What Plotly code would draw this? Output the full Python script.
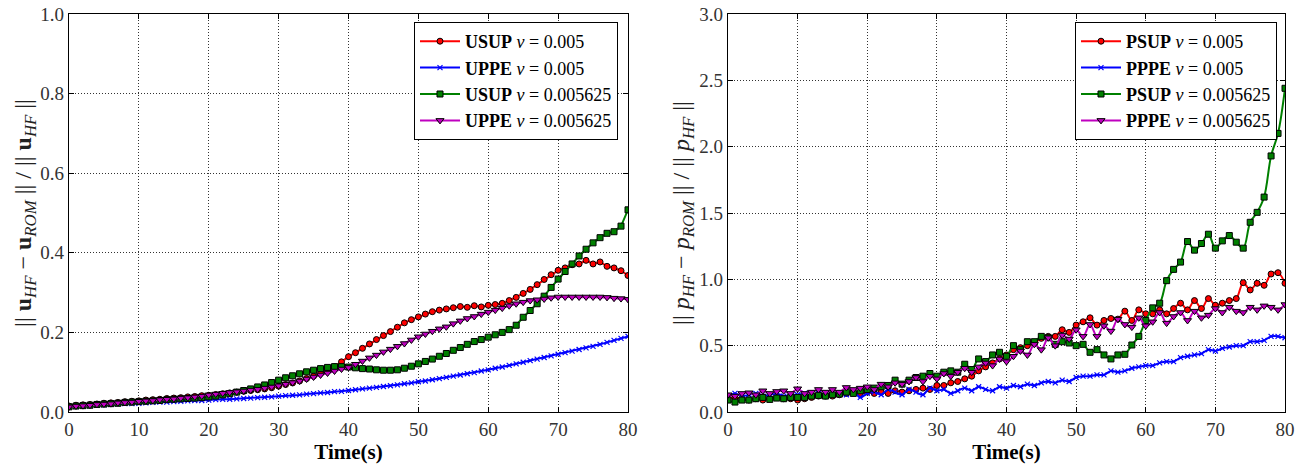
import plotly.graph_objects as go

t = list(range(0, 81))

# Left panel: velocity relative errors
u_usup_005 = [0.015,0.017,0.018,0.019,0.020,0.022,0.023,0.024,0.026,0.027,
              0.028,0.030,0.031,0.032,0.034,0.035,0.036,0.038,0.039,0.041,
              0.042,0.044,0.046,0.048,0.050,0.052,0.054,0.056,0.058,0.061,
              0.065,0.069,0.073,0.078,0.084,0.090,0.097,0.105,0.114,0.126,
              0.139,0.149,0.160,0.171,0.182,0.192,0.202,0.213,0.224,0.232,
              0.239,0.246,0.252,0.256,0.259,0.262,0.265,0.263,0.267,0.264,
              0.268,0.270,0.273,0.280,0.288,0.298,0.308,0.320,0.333,0.345,
              0.356,0.362,0.370,0.372,0.381,0.372,0.377,0.366,0.362,0.355,
              0.343]
u_uppe_005 = [0.013,0.014,0.015,0.016,0.017,0.018,0.019,0.020,0.021,0.021,
              0.022,0.023,0.024,0.025,0.025,0.026,0.027,0.028,0.029,0.029,
              0.030,0.031,0.032,0.032,0.033,0.034,0.035,0.036,0.037,0.038,
              0.040,0.041,0.042,0.043,0.045,0.046,0.048,0.049,0.051,0.052,
              0.054,0.056,0.058,0.060,0.062,0.064,0.066,0.068,0.071,0.073,
              0.076,0.078,0.081,0.084,0.087,0.090,0.093,0.096,0.099,0.103,
              0.106,0.110,0.113,0.117,0.121,0.125,0.129,0.133,0.137,0.141,
              0.145,0.149,0.153,0.157,0.161,0.165,0.170,0.175,0.180,0.185,
              0.190]
u_usup_0056 = [0.013,0.015,0.016,0.017,0.019,0.020,0.021,0.022,0.024,0.025,
               0.026,0.027,0.028,0.029,0.031,0.032,0.033,0.034,0.035,0.036,
               0.038,0.040,0.043,0.046,0.050,0.054,0.058,0.063,0.068,0.074,
               0.080,0.086,0.091,0.096,0.101,0.105,0.109,0.112,0.114,0.114,
               0.113,0.111,0.109,0.108,0.106,0.105,0.105,0.106,0.110,0.115,
               0.121,0.127,0.133,0.140,0.147,0.155,0.162,0.170,0.177,0.182,
               0.188,0.194,0.200,0.207,0.218,0.238,0.255,0.272,0.291,0.313,
               0.334,0.353,0.372,0.392,0.409,0.425,0.438,0.449,0.453,0.467,
               0.508]
u_uppe_0056 = [0.013,0.015,0.016,0.017,0.019,0.020,0.021,0.023,0.024,0.025,
               0.027,0.028,0.029,0.031,0.032,0.033,0.035,0.036,0.038,0.040,
               0.043,0.045,0.047,0.049,0.051,0.053,0.055,0.057,0.060,0.063,
               0.066,0.070,0.074,0.078,0.083,0.088,0.093,0.098,0.103,0.108,
               0.112,0.120,0.128,0.136,0.143,0.151,0.158,0.165,0.172,0.181,
               0.189,0.196,0.203,0.209,0.214,0.222,0.229,0.235,0.240,0.246,
               0.251,0.256,0.261,0.267,0.272,0.276,0.280,0.282,0.284,0.287,
               0.289,0.289,0.289,0.289,0.289,0.289,0.289,0.288,0.286,0.285,
               0.283]

# Right panel: pressure relative errors
p_psup_005 = [0.10,0.11,0.10,0.09,0.10,0.09,0.10,0.11,0.10,0.10,
              0.09,0.10,0.11,0.12,0.12,0.12,0.13,0.14,0.15,0.14,
              0.15,0.14,0.15,0.14,0.16,0.15,0.16,0.17,0.18,0.17,
              0.20,0.20,0.22,0.23,0.25,0.27,0.31,0.34,0.37,0.40,
              0.43,0.47,0.485,0.50,0.52,0.555,0.57,0.57,0.62,0.60,
              0.655,0.68,0.71,0.655,0.69,0.705,0.70,0.76,0.69,0.77,
              0.74,0.74,0.77,0.74,0.78,0.82,0.77,0.84,0.78,0.855,
              0.805,0.82,0.84,0.855,0.975,0.92,0.97,0.955,1.04,1.05,
              0.97]
p_pppe_005 = [0.12,0.14,0.12,0.13,0.14,0.12,0.13,0.14,0.12,0.13,
              0.13,0.14,0.12,0.14,0.13,0.13,0.14,0.13,0.15,0.11,
              0.14,0.15,0.13,0.17,0.15,0.13,0.17,0.15,0.13,0.18,
              0.16,0.17,0.14,0.16,0.18,0.16,0.19,0.17,0.16,0.19,
              0.18,0.20,0.19,0.21,0.20,0.22,0.23,0.22,0.24,0.23,
              0.26,0.27,0.27,0.28,0.28,0.31,0.30,0.31,0.33,0.34,
              0.35,0.35,0.37,0.38,0.38,0.41,0.42,0.43,0.44,0.47,
              0.46,0.48,0.49,0.50,0.50,0.53,0.53,0.54,0.57,0.57,
              0.56]
p_psup_0056 = [0.09,0.075,0.09,0.09,0.10,0.11,0.095,0.105,0.10,0.11,
               0.11,0.11,0.12,0.125,0.12,0.13,0.135,0.15,0.14,0.16,
               0.17,0.18,0.19,0.20,0.24,0.21,0.24,0.26,0.27,0.29,
               0.27,0.30,0.31,0.30,0.36,0.32,0.40,0.38,0.43,0.45,
               0.42,0.50,0.47,0.53,0.53,0.57,0.56,0.51,0.53,0.52,
               0.50,0.51,0.45,0.47,0.43,0.40,0.43,0.435,0.505,0.57,
               0.69,0.785,0.82,0.99,1.075,1.13,1.285,1.22,1.27,1.34,
               1.235,1.29,1.33,1.28,1.235,1.43,1.505,1.62,1.93,2.10,
               2.44]
p_pppe_0056 = [0.13,0.12,0.14,0.145,0.13,0.16,0.14,0.155,0.16,0.14,
               0.175,0.14,0.15,0.17,0.15,0.17,0.15,0.185,0.17,0.18,
               0.19,0.17,0.21,0.19,0.22,0.21,0.23,0.26,0.23,0.27,
               0.25,0.29,0.27,0.30,0.33,0.30,0.34,0.37,0.35,0.40,
               0.38,0.42,0.46,0.43,0.51,0.47,0.56,0.50,0.58,0.55,
               0.62,0.57,0.66,0.57,0.65,0.61,0.70,0.66,0.64,0.71,
               0.65,0.68,0.75,0.67,0.72,0.75,0.69,0.76,0.71,0.73,
               0.78,0.75,0.79,0.76,0.75,0.79,0.77,0.80,0.79,0.77,
               0.81]

x_ticks = [0, 10, 20, 30, 40, 50, 60, 70, 80]
left_y_ticks = [0.0, 0.2, 0.4, 0.6, 0.8, 1.0]
right_y_ticks = [0.0, 0.5, 1.0, 1.5, 2.0, 2.5, 3.0]

RED, BLUE, GREEN, MAG = "#ff0000", "#0000ff", "#008000", "#bf00bf"
FONT = "Liberation Serif"

styles = [
    dict(color=RED, symbol="circle", size=6, lw=1),
    dict(color=BLUE, symbol="x-thin", size=5, lw=1.2),
    dict(color=GREEN, symbol="square", size=6, lw=1),
    dict(color=MAG, symbol="triangle-down", size=7, lw=1),
]

fig = go.Figure()

def add_series(xa, ya, yvals, name, st, legend, shape):
    if st["symbol"] == "x-thin":
        marker = dict(symbol="x-thin", size=st["size"],
                      line=dict(color=st["color"], width=st["lw"]), color=st["color"])
    else:
        marker = dict(symbol=st["symbol"], size=st["size"], color=st["color"],
                      line=dict(color="black", width=st["lw"]))
    fig.add_trace(go.Scatter(
        x=t, y=yvals, name=name, mode="lines+markers",
        line=dict(color=st["color"], width=2, shape=shape),
        marker=marker, xaxis=xa, yaxis=ya, legend=legend))

left_names = ["<b>USUP</b> <i>ν</i> = 0.005", "<b>UPPE</b> <i>ν</i> = 0.005",
              "<b>USUP</b> <i>ν</i> = 0.005625", "<b>UPPE</b> <i>ν</i> = 0.005625"]
right_names = ["<b>PSUP</b> <i>ν</i> = 0.005", "<b>PPPE</b> <i>ν</i> = 0.005",
               "<b>PSUP</b> <i>ν</i> = 0.005625", "<b>PPPE</b> <i>ν</i> = 0.005625"]

for vals, nm, st in zip([u_usup_005, u_uppe_005, u_usup_0056, u_uppe_0056], left_names, styles):
    add_series("x", "y", vals, nm, st, "legend", "linear")
for vals, nm, st in zip([p_psup_005, p_pppe_005, p_psup_0056, p_pppe_0056], right_names, styles):
    add_series("x2", "y2", vals, nm, st, "legend2", "spline")

W, H = 1309, 466
ytop, ybot = 14, 412
ydom = [1 - ybot / H, 1 - ytop / H]

axis_common = dict(
    showline=True, linecolor="black", linewidth=1.2, mirror="allticks",
    ticks="inside", ticklen=5, tickcolor="black", tickwidth=1,
    showgrid=True, gridcolor="rgba(0,0,0,0.8)", griddash="1px,2px", gridwidth=1,
    zeroline=False, tickfont=dict(family=FONT, size=19, color="#333"),
    automargin=False,
)

legend_common = dict(
    bgcolor="white", bordercolor="black", borderwidth=1,
    font=dict(family=FONT, size=18, color="black"),
    xanchor="right", yanchor="top", tracegroupgap=0, itemwidth=40,
)

title_font = dict(family=FONT, size=21, color="black")
ytitle_font = dict(family=FONT, size=24, color="#222")

fig.update_layout(
    width=W, height=H,
    margin=dict(l=0, r=0, t=0, b=0),
    paper_bgcolor="white", plot_bgcolor="white",
    showlegend=True,
    xaxis=dict(axis_common, domain=[69 / W, 628 / W], range=[0, 80],
               tickvals=x_ticks, ticktext=[str(v) for v in x_ticks],
               title=dict(text="<b>Time(s)</b>", font=title_font, standoff=1)),
    yaxis=dict(axis_common, domain=ydom, range=[0, 1.0],
               tickvals=left_y_ticks, ticktext=[f"{v:.1f}" for v in left_y_ticks],
               title=dict(text="|| <b>u</b><sub><i>HF</i></sub> − <b>u</b><sub><i>ROM</i></sub> || / || <b>u</b><sub><i>HF</i></sub> ||",
                          font=ytitle_font, standoff=0)),
    xaxis2=dict(axis_common, domain=[728 / W, 1285 / W], range=[0, 80], anchor="y2",
                tickvals=x_ticks, ticktext=[str(v) for v in x_ticks],
                title=dict(text="<b>Time(s)</b>", font=title_font, standoff=1)),
    yaxis2=dict(axis_common, domain=ydom, range=[0, 3.0], anchor="x2",
                tickvals=right_y_ticks, ticktext=[f"{v:.1f}" for v in right_y_ticks],
                title=dict(text="|| <i>p</i><sub><i>HF</i></sub> − <i>p</i><sub><i>ROM</i></sub> || / || <i>p</i><sub><i>HF</i></sub> ||",
                           font=ytitle_font, standoff=2)),
    legend=dict(legend_common, x=618 / W, y=1 - 22 / H),
    legend2=dict(legend_common, x=1277 / W, y=1 - 22 / H),
)

fig.write_html("out.html", config={"displayModeBar": False},
               post_script="document.body.style.margin='0';")
